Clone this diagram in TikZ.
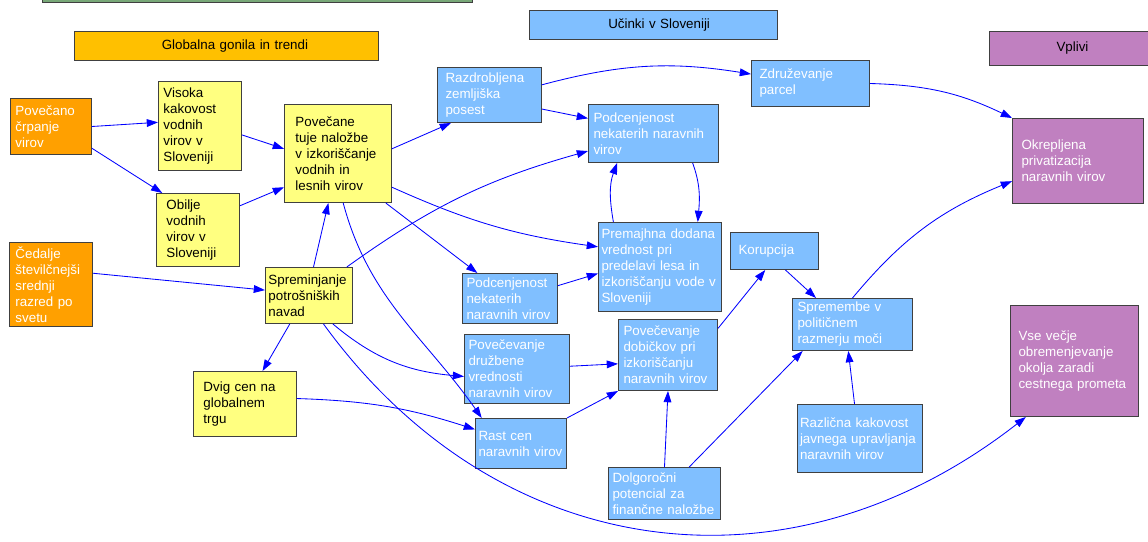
\documentclass[tikz,border=0pt]{standalone}
\usepackage{fontspec}
\setmainfont{Liberation Sans}
\usepackage{xcolor}
\usetikzlibrary{arrows.meta}

\definecolor{orangebox}{RGB}{255,160,0}
\definecolor{yellowbox}{RGB}{255,255,128}
\definecolor{bluebox}{RGB}{128,191,255}
\definecolor{purplebox}{RGB}{192,128,192}
\definecolor{headorange}{RGB}{255,192,0}
\definecolor{greenbar}{RGB}{120,168,120}
\definecolor{boxline}{RGB}{64,64,64}
\newcommand{\unitpx}{0.025cm}

\begin{document}
\begin{tikzpicture}[x=0.025cm, y=-0.025cm,
    >={Triangle[length=8pt,width=5.5pt]},
    box/.style n args={3}{rectangle, draw=boxline, line width=0.7pt, anchor=north west,
        align=left, font=\fontsize{9.5}{11.4}\selectfont, inner ysep=0pt,
        inner xsep=#3*\unitpx, minimum width=#1*\unitpx, minimum height=#2*\unitpx,
        text width=(#1-2*#3)*\unitpx},
    hdr/.style 2 args={box={#1}{#2}{4}, align=center, text=black},
    org/.style={fill=orangebox, text=white},
    ylw/.style={fill=yellowbox, text=black},
    blu/.style={fill=bluebox, text=white},
    prp/.style={fill=purplebox, text=white},
    lnk/.style={->, draw=blue, line width=0.6pt}]
    \useasboundingbox (0,0) rectangle (1148,541);

    \node[hdr={430}{22}, fill=greenbar] (topbar) at (42,-20) {};
    \node[hdr={304}{29}, fill=headorange] (hglob) at (74,31) {\hspace*{12pt}Globalna gonila in trendi};
    \node[hdr={248}{29}, fill=bluebox] (hucin) at (529,10) {\hspace*{8pt}Učinki v Sloveniji};
    \node[hdr={166}{34}, fill=purplebox] (hvpl) at (989,31) {Vplivi};

    \node[org, box={81}{56}{5}] (pov) at (10,98) {Povečano\\črpanje\\virov};
    \node[org, box={83}{84}{6}] (ced) at (9,242) {Čedalje\\številčnejši\\srednji\\razred po\\svetu};

    \node[ylw, box={83}{89}{5}] (vis) at (158,81) {Visoka\\kakovost\\vodnih\\virov v\\Sloveniji};
    \node[ylw, box={83}{73}{10}] (obi) at (156,193) {Obilje\\vodnih\\virov v\\Sloveniji};
    \node[ylw, box={107}{98}{11}] (pnl) at (284,104) {Povečane\\tuje naložbe\\v izkoriščanje\\vodnih in\\lesnih virov};
    \node[ylw, box={87}{56}{3}] (spr) at (265,267) {Spreminjanje\\potrošniških\\navad};
    \node[ylw, box={103}{65}{10}] (dvig) at (193,371) {Dvig cen na\\globalnem\\trgu};

    \node[blu, box={104}{55}{8}] (razd) at (437,67) {Razdrobljena\\zemljiška\\posest};
    \node[blu, box={130}{58}{5}] (podc1) at (588,104) {Podcenjenost\\nekaterih naravnih\\virov};
    \node[blu, box={118}{46}{8}] (zdr) at (751,60) {Združevanje\\parcel};
    \node[blu, box={123}{89}{3}] (prem) at (598,222) {Premajhna dodana\\vrednost pri\\predelavi lesa in\\izkoriščanju vode v\\Sloveniji};
    \node[blu, box={88}{37}{8}] (kor) at (730,232) {Korupcija};
    \node[blu, box={95}{50}{4}] (podc2) at (462,273) {Podcenjenost\\nekaterih\\naravnih virov};
    \node[blu, box={99}{71}{5}] (dob) at (618,319) {Povečevanje\\dobičkov pri\\izkoriščanju\\naravnih virov};
    \node[blu, box={105}{69}{4}] (druz) at (464,334) {Povečevanje\\družbene\\vrednosti\\naravnih virov};
    \node[blu, box={91}{50}{3}] (rast) at (475,418) {Rast cen\\naravnih virov};
    \node[blu, box={112}{52}{4}] (dolg) at (608,467) {Dolgoročni\\potencial za\\finančne naložbe};
    \node[blu, box={120}{52}{5}] (sprem) at (792,298) {Spremembe v\\političnem\\razmerju moči};
    \node[blu, box={125}{68}{2.5}] (razl) at (797,404) {Različna kakovost\\javnega upravljanja\\naravnih virov};

    \node[prp, box={131}{85}{9}] (okr) at (1012,118) {Okrepljena\\privatizacija\\naravnih virov};
    \node[prp, box={128}{111}{8}] (vse) at (1010,305) {Vse večje\\obremenjevanje\\okolja zaradi\\cestnega prometa};

    \draw[lnk] (pov.east) -- (vis.175);
    \draw[lnk] (pov.-28) -- (obi.134);
    \draw[lnk] (vis.-12) -- (pnl.175);
    \draw[lnk] (obi.30) -- (pnl.212);
    \draw[lnk] (ced.15) -- (spr.173);
    \draw[lnk] (spr.81) -- (pnl.-101);
    \draw[lnk] (spr.-124) -- (dvig.62);
    \draw[lnk] (spr.37) to[bend left=10] (podc1.195);
    \draw[lnk] (spr.-50) to[out=-40,in=175] (druz.188);
    \draw[lnk] (spr.-63) to[out=-54,in=-142,looseness=1.08] (vse.-131);
    \draw[lnk] (dvig.6) to[bend left=8] (rast.163);
    \draw[lnk] (pnl.5) -- (razd.-144);
    \draw[lnk] (pnl.-32) to[bend right=8] (prem.162);
    \draw[lnk] (pnl.-46) -- (podc2.142);
    \draw[lnk] (pnl.-84) to[out=-75,in=125] (rast.147);
    \draw[lnk] (razd.11) to[bend left=12] (zdr.171);
    \draw[lnk] (razd.-15) -- (podc1.167);
    \draw[lnk] (prem.136) to[out=100,in=-110] (podc1.-141);
    \draw[lnk] (podc1.-37) to[out=-70,in=85] (prem.50);
    \draw[lnk] (podc2.15) -- (prem.186);
    \draw[lnk] (druz.3) -- (dob.190);
    \draw[lnk] (rast.north east) -- (dob.south west);
    \draw[lnk] (dob.28) -- (kor.-116);
    \draw[lnk] (kor.-60) -- (sprem.144);
    \draw[lnk] (dolg.north) -- (dob.south);
    \draw[lnk] (dolg.47) -- (sprem.-152);
    \draw[lnk] (razl.99) -- (sprem.-99);
    \draw[lnk] (sprem.north) to[bend left=14] (okr.197);
    \draw[lnk] (zdr.east) to[bend left=12] (okr.north west);
\end{tikzpicture}
\end{document}
